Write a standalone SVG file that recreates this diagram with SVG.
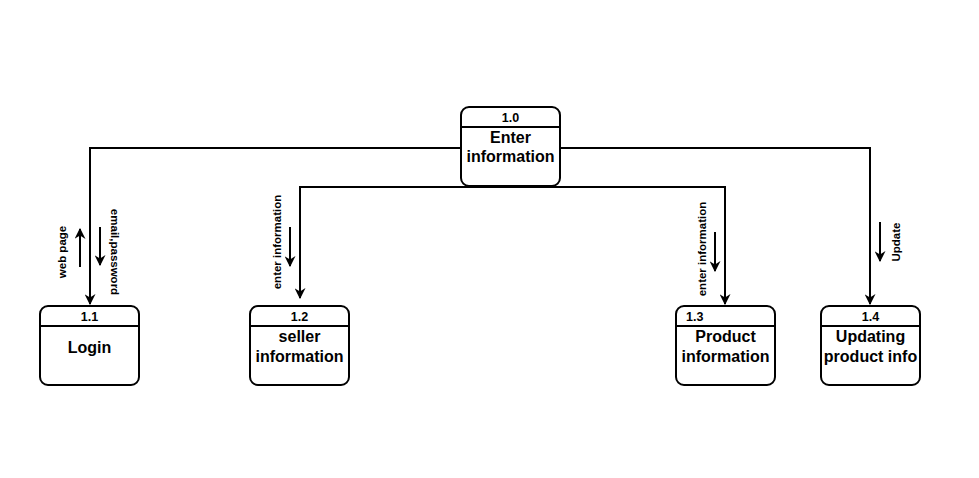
<svg xmlns="http://www.w3.org/2000/svg" width="979" height="478" viewBox="0 0 979 478">
<defs>
<marker id="ah" viewBox="0 0 10 10" refX="9" refY="5" markerWidth="5.5" markerHeight="5.5" orient="auto" markerUnits="strokeWidth">
<path d="M0,0 L10,5 L0,10 L3,5 Z" fill="#000"/>
</marker>
<style>
.box{fill:#fff;stroke:#000;stroke-width:2}
.hl{stroke:#000;stroke-width:2}
.c{fill:none;stroke:#000;stroke-width:2}
.id{font-family:"Liberation Sans",Arial,sans-serif;font-size:12.5px;font-weight:bold;text-anchor:middle}
.lb{font-family:"Liberation Sans",Arial,sans-serif;font-size:16px;font-weight:bold;text-anchor:middle}
.sm{font-family:"Liberation Sans",Arial,sans-serif;font-size:11.5px;font-weight:bold;text-anchor:middle}
</style>
</defs>
<rect width="979" height="478" fill="#fff"/>
<g id="connectors">
<path class="c" d="M461,148 H90 V304" marker-end="url(#ah)"/>
<path class="c" d="M560,148 H870 V304" marker-end="url(#ah)"/>
<path class="c" d="M510,187 H300 V298" marker-end="url(#ah)"/>
<path class="c" d="M510,187 H725 V304" marker-end="url(#ah)"/>
<path class="c" d="M80,267 V229" marker-end="url(#ah)"/>
<path class="c" d="M100,227 V265" marker-end="url(#ah)"/>
<path class="c" d="M290,227 V266" marker-end="url(#ah)"/>
<path class="c" d="M715,232 V271" marker-end="url(#ah)"/>
<path class="c" d="M880,222 V261" marker-end="url(#ah)"/>
<text class="sm" transform="translate(66,252) rotate(-90)">web page</text>
<text class="sm" transform="translate(111,252) rotate(90)">email,password</text>
<text class="sm" transform="translate(281,242) rotate(-90)">enter information</text>
<text class="sm" transform="translate(706,249) rotate(-90)">enter information</text>
<text class="sm" transform="translate(900,242) rotate(-90)">Update</text>
</g>
<g id="n10">
<rect class="box" x="461" y="107" width="99" height="79" rx="8"/>
<line class="hl" x1="461" y1="127" x2="560" y2="127"/>
<text class="id" x="510.5" y="122">1.0</text>
<text class="lb" x="510.5" y="143">Enter</text>
<text class="lb" x="510.5" y="162">information</text>
</g>
<g id="n11">
<rect class="box" x="40" y="306" width="99" height="79" rx="8"/>
<line class="hl" x1="40" y1="326" x2="139" y2="326"/>
<text class="id" x="89.5" y="321">1.1</text>
<text class="lb" x="89.5" y="353">Login</text>
</g>
<g id="n12">
<rect class="box" x="250" y="306" width="99" height="79" rx="8"/>
<line class="hl" x1="250" y1="326" x2="349" y2="326"/>
<text class="id" x="299.5" y="321">1.2</text>
<text class="lb" x="299.5" y="342">seller</text>
<text class="lb" x="299.5" y="362">information</text>
</g>
<g id="n13">
<rect class="box" x="676" y="306" width="99" height="79" rx="8"/>
<line class="hl" x1="676" y1="326" x2="775" y2="326"/>
<text class="id" x="686" y="321" style="text-anchor:start">1.3</text>
<text class="lb" x="725.5" y="342">Product</text>
<text class="lb" x="725.5" y="362">information</text>
</g>
<g id="n14">
<rect class="box" x="821" y="306" width="99" height="79" rx="8"/>
<line class="hl" x1="821" y1="326" x2="920" y2="326"/>
<text class="id" x="870.5" y="321">1.4</text>
<text class="lb" x="870.5" y="342">Updating</text>
<text class="lb" x="870.5" y="362">product info</text>
</g>
</svg>
